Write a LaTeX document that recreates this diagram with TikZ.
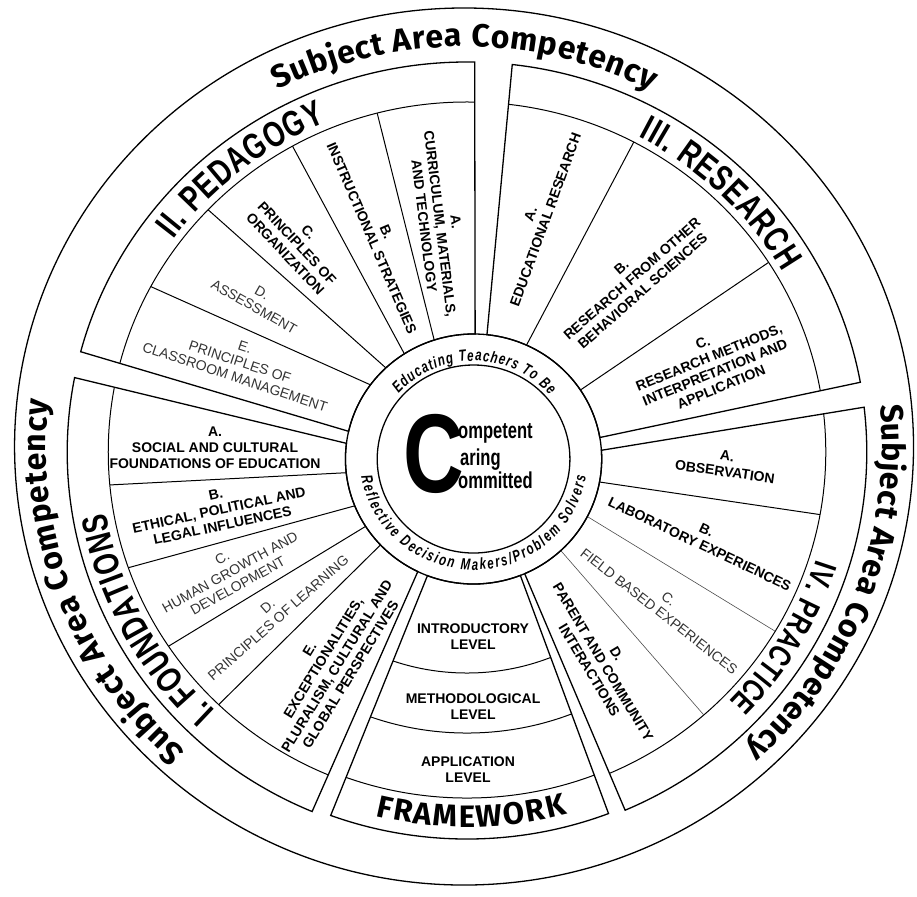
\documentclass[tikz,border=0pt]{standalone}
\usepackage{graphicx}
\usepackage{fontspec}
\setmainfont{Liberation Sans}
\newfontfamily\labelfont{Liberation Sans}
\newfontfamily\bandfont[FakeStretch=0.75]{Liberation Sans}
\newfontfamily\hubfont[FakeStretch=0.72]{Liberation Sans}
\newfontfamily\ringfont{Fira Sans}
\usetikzlibrary{calc,decorations.text}

\begin{document}
\begin{tikzpicture}[x=1.025pt,y=1pt,
    edge/.style={line width=1.3pt},
    div/.style={line width=1pt},
    faint/.style={line width=0.6pt, black!70},
    lab/.style={font=\labelfont\bfseries\fontsize{14}{16}\selectfont, align=center, inner sep=0pt},
    labl/.style={font=\labelfont\fontsize{14}{16}\selectfont, align=center, inner sep=0pt, text=black!80},
    hub/.style={font=\hubfont\bfseries\fontsize{23}{23}\selectfont, inner sep=0pt, anchor=base west},
    arctext/.style={decorate, decoration={text along path, text align=fit to path, text={#1}}},
    blk/.style n args={5}{insert path={($(Oh)+(#1:125)$) -- ($(Oo)+(#2:#5)$)
        arc[start angle=#2,end angle=#3,radius=#5] -- ($(Oh)+(#4:125)$)
        arc[start angle=#4,end angle=#1,radius=125] -- cycle}}]
    \useasboundingbox (0,0) rectangle (894.6,896);
    \coordinate (Oc) at (452.7,449.5);
    \coordinate (Oo) at (455.6,444);
    \coordinate (Oh) at (462.0,437);

    % outer ring
    \draw[edge] (Oc) circle[radius=438.5];
    \path[arctext={|\ringfont\bfseries\fontsize{32}{32}\selectfont|Subject Area Competency}]
        ($(Oc)+(117:400)$) arc[start angle=117,end angle=62.9,radius=400];
    \path[arctext={|\ringfont\bfseries\fontsize{32}{32}\selectfont|Subject Area Competency}]
        ($(Oc)+(5.8:408)$) arc[start angle=5.8,end angle=-47.8,radius=408];
    \path[arctext={|\ringfont\bfseries\fontsize{32}{32}\selectfont|Subject Area Competency}]
        ($(Oc)+(228.3:408)$) arc[start angle=228.3,end angle=173.5,radius=408];

    % the four areas
    \foreach \ia/\oa/\ob/\ib in {167.2/165.1/88.9/89.3, 84.0/83.5/10.3/9.9,
                                 4.0/6.6/-66.7/-66.5, 244.2/247.2/169.0/172.8}{
        \begin{scope}
            \clip[blk={\ia}{\oa}{\ob}{\ib}{390}];
            \draw[div] (Oo) circle[radius=350];
        \end{scope}
        \draw[edge, blk={\ia}{\oa}{\ob}{\ib}{390}];
    }
    % framework
    \begin{scope}
        \clip[blk={-68.6}{-69.1}{-110.1}{-111.1}{387}];
        \foreach \r in {221,281,346} \draw[div] (Oo) circle[radius=\r];
    \end{scope}
    \draw[edge, blk={-68.6}{-69.1}{-110.1}{-111.1}{387}];

    \foreach \o/\i in {104.5/107.9, 119.1/122.7, 136.2/133.2, 151.8/143.6,
                       62.3/65.6, 32.8/33.5, -10.3/-10.6,
                       185.4/186.3, 199.3/202.0, 213.7/212.6, 226.2/223.4}
        \draw[div] ($(Oo)+(\o:350)$) -- ($(Oh)+(\i:125)$);
    \foreach \o/\i in {-30.8/-27.4, -48.7/-47.1}
        \draw[faint] ($(Oo)+(\o:350)$) -- ($(Oh)+(\i:125)$);

    \path[arctext={|\bandfont\bfseries\fontsize{36}{36}\selectfont|II. PEDAGOGY}]
        ($(Oo)+(143.4:357)$) arc[start angle=143.4,end angle=112.7,radius=357];
    \path[arctext={|\bandfont\bfseries\fontsize{36}{36}\selectfont|III. RESEARCH}]
        ($(Oo)+(62:357)$) arc[start angle=62,end angle=30.3,radius=357];
    \path[arctext={|\bandfont\bfseries\fontsize{32}{32}\selectfont|IV. PRACTICE}]
        ($(Oo)+(-17.5:357)$) arc[start angle=-17.5,end angle=-44.3,radius=357];
    \path[arctext={|\bandfont\bfseries\fontsize{36}{36}\selectfont|I. FOUNDATIONS}]
        ($(Oo)+(226.5:357)$) arc[start angle=226.5,end angle=189.8,radius=357];
    \path[arctext={|\ringfont\bfseries\fontsize{31}{31}\selectfont|FRAMEWORK}]
        ($(Oo)+(256.3:375)$) arc[start angle=256.3,end angle=285.1,radius=375];

    % hub
    \draw[edge] (Oh) circle[radius=125];
    \draw[edge] (Oh) circle[radius=94];
    \path[arctext={|\hubfont\bfseries\itshape\fontsize{16}{16}\selectfont|Educating Teachers To Be}]
        ($(Oh)+(138.3:98)$) arc[start angle=138.3,end angle=40.7,radius=98];
    \path[arctext={|\hubfont\bfseries\itshape\fontsize{16}{16}\selectfont|Reflective Decision Makers/Problem Solvers}]
        ($(Oh)+(189.2:111)$) arc[start angle=189.2,end angle=350.9,radius=111];
    \node[anchor=base, inner sep=0pt] (bigc) at (423.4,404)
        {\scalebox{0.75}[1]{\labelfont\bfseries\fontsize{112}{112}\selectfont C}};
    \node[hub] (comp) at (446.8,458) {ompetent};
    \node[hub] (car) at (448.8,431) {aring};
    \node[hub] (comm) at (446.8,408) {ommitted};

    % pedagogy
    \node[lab, rotate=-83] (pedA) at (429.3,672) {A.\\CURRICULUM, MATERIALS,\\AND TECHNOLOGY};
    \node[lab, rotate=-66.7] (pedB) at (369.8,661) {B.\\INSTRUCTIONAL STRATEGIES};
    \node[lab, rotate=-47] (pedC) at (289.8,653) {C.\\PRINCIPLES OF\\ORGANIZATION};
    \node[labl, rotate=-29.5] (pedD) at (251.7,596) {D.\\ASSESSMENT};
    \node[labl, rotate=-18.3] (pedE) at (234.1,534) {E.\\PRINCIPLES OF\\CLASSROOM MANAGEMENT};
    % research
    \node[lab, rotate=70] (resA) at (524.9,679) {A.\\EDUCATIONAL RESEARCH};
    \node[lab, rotate=41.3] (resB) at (616.6,617) {B.\\RESEARCH FROM OTHER\\BEHAVIORAL SCIENCES};
    \node[lab, rotate=22.3] (resC) at (694.6,531) {C.\\RESEARCH METHODS,\\INTERPRETATION AND\\APPLICATION};
    % practice
    \node[lab, rotate=-8] (praA) at (708.3,432) {A.\\OBSERVATION};
    \node[lab, rotate=-25.4] (praB) at (685.9,359) {B.\\LABORATORY EXPERIENCES};
    \node[labl, rotate=-38] (praC) at (647.8,291) {C.\\FIELD BASED EXPERIENCES};
    \node[lab, rotate=-59] (praD) at (588.3,234) {D.\\PARENT AND COMMUNITY\\INTERACTIONS};
    % foundations
    \node[lab] (fouA) at (209.8,448) {A.\\SOCIAL AND CULTURAL\\FOUNDATIONS OF EDUCATION};
    \node[lab, rotate=12] (fouB) at (213.7,386) {B.\\ETHICAL, POLITICAL AND\\LEGAL INFLUENCES};
    \node[labl, rotate=29] (fouC) at (224.4,324) {C.\\HUMAN GROWTH AND\\DEVELOPMENT};
    \node[labl, rotate=41.3] (fouD) at (266.3,284) {D.\\PRINCIPLES OF LEARNING};
    \node[lab, rotate=58.4] (fouE) at (322,234) {E.\\EXCEPTIONALITIES,\\PLURALISM, CULTURAL AND\\GLOBAL PERSPECTIVES};
    % framework levels
    \node[lab] (intro) at (461.5,259) {INTRODUCTORY\\LEVEL};
    \node[lab] (meth) at (461.5,189) {METHODOLOGICAL\\LEVEL};
    \node[lab] (appl) at (456.6,126) {APPLICATION\\LEVEL};
\end{tikzpicture}
\end{document}
